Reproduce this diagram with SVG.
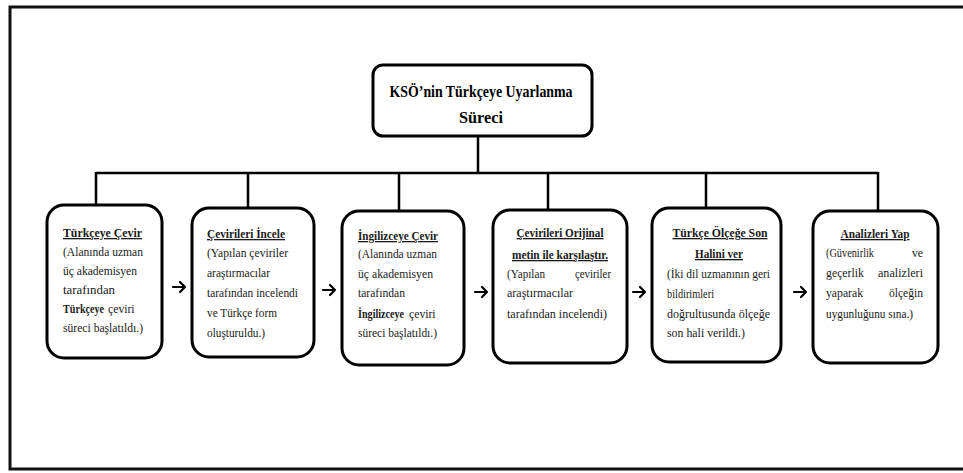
<svg xmlns="http://www.w3.org/2000/svg" width="963" height="473" viewBox="0 0 963 473">
<style>
.frame{fill:#fff;stroke:#111;stroke-width:3}
.box{fill:#fff;stroke:#000;stroke-width:3}
.ln{fill:none;stroke:#000;stroke-width:2.5}
.ar{fill:none;stroke:#000;stroke-width:2.2;stroke-linecap:round;stroke-linejoin:round}
text{font-family:"Liberation Serif","Times New Roman",serif;fill:#1a1a1a}
.t{font-size:17px;font-weight:bold;fill:#000}
.h{font-size:13px;font-weight:bold;text-decoration:underline}
.b{font-size:13px}
.bb{font-size:13px;font-weight:bold}
.m{text-anchor:middle}
.e{text-anchor:end}
</style>
<rect x="0" y="0" width="963" height="473" fill="#fff"/>
<rect class="frame" x="10" y="7" width="970" height="462"/>
<g id="connectors">
<path class="ln" d="M478,136 V173 M96,173 H878 M96,172 V205 M248,172 V208 M399,172 V211 M548,172 V210 M706,172 V208 M878,172 V211"/>
<path class="ar" d="M173,287 H185 M180,282 L185,287 L180,292"/>
<path class="ar" d="M323,290 H335 M330,285 L335,290 L330,295"/>
<path class="ar" d="M475,292 H487 M482,287 L487,292 L482,297"/>
<path class="ar" d="M633,292 H645 M640,287 L645,292 L640,297"/>
<path class="ar" d="M794,292 H806 M801,287 L806,292 L801,297"/>
</g>
<g id="root">
<rect class="box" x="373" y="65" width="219" height="71" rx="10"/>
<text class="t m" x="481" y="97" textLength="183" lengthAdjust="spacingAndGlyphs">KSÖ’nin Türkçeye Uyarlanma</text>
<text class="t m" x="481" y="123" textLength="44" lengthAdjust="spacingAndGlyphs">Süreci</text>
</g>
<g id="n1">
<rect class="box" x="47" y="205" width="115" height="153" rx="17"/>
<text class="h" x="63" y="237" textLength="79" lengthAdjust="spacingAndGlyphs">Türkçeye Çevir</text>
<text class="b" x="63" y="256" textLength="80" lengthAdjust="spacingAndGlyphs">(Alanında uzman</text>
<text class="b" x="63" y="275" textLength="74" lengthAdjust="spacingAndGlyphs">üç akademisyen</text>
<text class="b" x="63" y="294" textLength="52" lengthAdjust="spacingAndGlyphs">tarafından</text>
<text class="bb" transform="translate(63,313) scale(0.78,1)">Türkçeye</text>
<text class="b" transform="translate(108,313) scale(0.9,1)">çeviri</text>
<text class="b" x="63" y="332" textLength="80" lengthAdjust="spacingAndGlyphs">süreci başlatıldı.)</text>
</g>
<g id="n2">
<rect class="box" x="192" y="208" width="122" height="149" rx="17"/>
<text class="h" x="207" y="238" textLength="78" lengthAdjust="spacingAndGlyphs">Çevirileri İncele</text>
<text class="b" x="207" y="257" textLength="81" lengthAdjust="spacingAndGlyphs">(Yapılan çeviriler</text>
<text class="b" x="207" y="277" textLength="63" lengthAdjust="spacingAndGlyphs">araştırmacılar</text>
<text class="b" x="207" y="297" textLength="91" lengthAdjust="spacingAndGlyphs">tarafından incelendi</text>
<text class="b" x="207" y="317" textLength="70" lengthAdjust="spacingAndGlyphs">ve Türkçe form</text>
<text class="b" x="207" y="337" textLength="58" lengthAdjust="spacingAndGlyphs">oluşturuldu.)</text>
</g>
<g id="n3">
<rect class="box" x="342" y="211" width="122" height="154" rx="17"/>
<text class="h" x="358" y="240" textLength="80" lengthAdjust="spacingAndGlyphs">İngilizceye Çevir</text>
<text class="b" x="358" y="258" textLength="79" lengthAdjust="spacingAndGlyphs">(Alanında uzman</text>
<text class="b" x="358" y="278" textLength="75" lengthAdjust="spacingAndGlyphs">üç akademisyen</text>
<text class="b" x="358" y="297" textLength="47" lengthAdjust="spacingAndGlyphs">tarafından</text>
<text class="bb" transform="translate(358,318) scale(0.78,1)">İngilizceye</text>
<text class="b" transform="translate(409,318) scale(0.9,1)">çeviri</text>
<text class="b" x="358" y="337" textLength="79" lengthAdjust="spacingAndGlyphs">süreci başlatıldı.)</text>
</g>
<g id="n4">
<rect class="box" x="493" y="210" width="134" height="153" rx="17"/>
<text class="h m" x="560" y="237" textLength="87" lengthAdjust="spacingAndGlyphs">Çevirileri Orijinal</text>
<text class="h m" x="560" y="259" textLength="96" lengthAdjust="spacingAndGlyphs">metin ile karşılaştır.</text>
<text class="b" x="507" y="278" textLength="38" lengthAdjust="spacingAndGlyphs">(Yapılan</text>
<text class="b e" x="611" y="278" textLength="36" lengthAdjust="spacingAndGlyphs">çeviriler</text>
<text class="b" x="507" y="297" textLength="66" lengthAdjust="spacingAndGlyphs">araştırmacılar</text>
<text class="b" x="507" y="318" textLength="100" lengthAdjust="spacingAndGlyphs">tarafından incelendi)</text>
</g>
<g id="n5">
<rect class="box" x="652" y="208" width="129" height="154" rx="17"/>
<text class="h m" x="720" y="237" textLength="95" lengthAdjust="spacingAndGlyphs">Türkçe Ölçeğe Son</text>
<text class="h m" x="719" y="258" textLength="48" lengthAdjust="spacingAndGlyphs">Halini ver</text>
<text class="b" x="667" y="278" textLength="103" lengthAdjust="spacingAndGlyphs">(İki dil uzmanının geri</text>
<text class="b" x="667" y="298" textLength="47" lengthAdjust="spacingAndGlyphs">bildirimleri</text>
<text class="b" x="667" y="318" textLength="103" lengthAdjust="spacingAndGlyphs">doğrultusunda ölçeğe</text>
<text class="b" x="667" y="337" textLength="78" lengthAdjust="spacingAndGlyphs">son hali verildi.)</text>
</g>
<g id="n6">
<rect class="box" x="813" y="211" width="125" height="152" rx="17"/>
<text class="h m" x="875" y="238" textLength="69" lengthAdjust="spacingAndGlyphs">Analizleri Yap</text>
<text class="b" x="826" y="257" textLength="48" lengthAdjust="spacingAndGlyphs">(Güvenirlik</text>
<text class="b e" x="923" y="257" textLength="11" lengthAdjust="spacingAndGlyphs">ve</text>
<text class="b" x="826" y="277" textLength="38" lengthAdjust="spacingAndGlyphs">geçerlik</text>
<text class="b e" x="923" y="277" textLength="45" lengthAdjust="spacingAndGlyphs">analizleri</text>
<text class="b" x="826" y="297" textLength="37" lengthAdjust="spacingAndGlyphs">yaparak</text>
<text class="b e" x="923" y="297" textLength="34" lengthAdjust="spacingAndGlyphs">ölçeğin</text>
<text class="b" x="826" y="318" textLength="87" lengthAdjust="spacingAndGlyphs">uygunluğunu sına.)</text>
</g>
</svg>
